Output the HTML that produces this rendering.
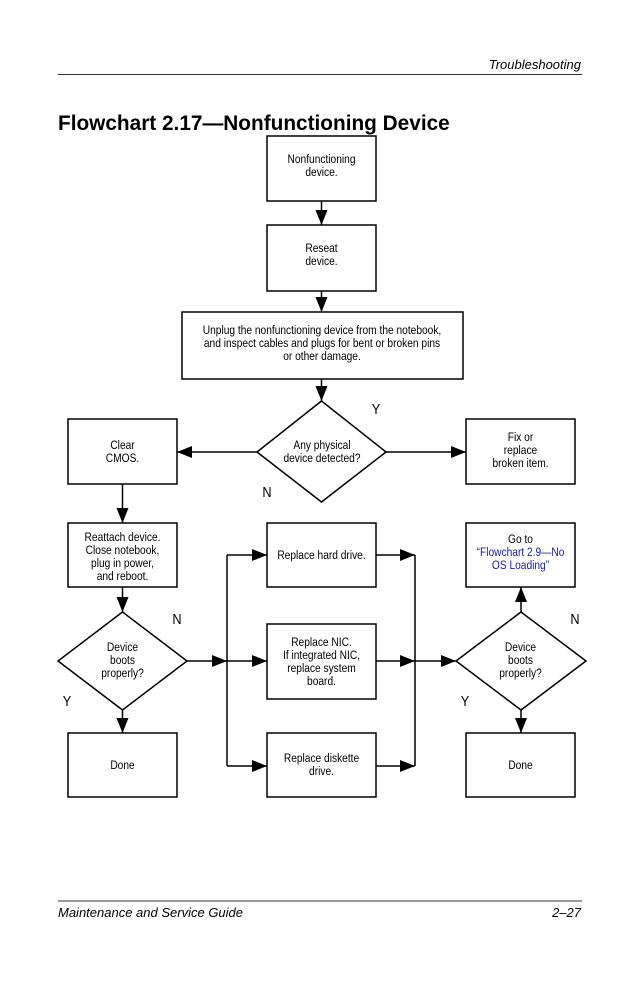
<!DOCTYPE html>
<html><head><meta charset="utf-8"><style>
html,body{margin:0;padding:0;background:#fff;}
svg{display:block;}
.t{font-family:"Liberation Sans",sans-serif;font-size:12px;fill:#000;}
.b{fill:none;stroke:#000;stroke-width:1.5;}
.l{stroke:#000;stroke-width:1.5;fill:none;}
</style></head><body>
<svg width="638" height="986" viewBox="0 0 638 986" xmlns="http://www.w3.org/2000/svg">
<defs>
<marker id="a" viewBox="0 0 15 12" refX="15" refY="6" markerWidth="15" markerHeight="12" markerUnits="userSpaceOnUse" orient="auto"><path d="M0,0 L15,6 L0,12 z" fill="#000"/></marker>
</defs>
<text x="581" y="69" text-anchor="end" font-family="Liberation Sans,sans-serif" font-style="italic" font-size="13">Troubleshooting</text>
<line x1="58" y1="74.5" x2="582" y2="74.5" stroke="#333" stroke-width="1"/>
<text x="58" y="130" font-family="Liberation Sans,sans-serif" font-weight="bold" font-size="20.8">Flowchart 2.17—Nonfunctioning Device</text>

<rect class="b" x="267" y="136" width="109" height="65"/>
<rect class="b" x="267" y="225" width="109" height="66"/>
<rect class="b" x="182" y="312" width="281" height="67"/>
<polygon class="b" points="321.5,401 386,452 321.5,502 257,452"/>
<rect class="b" x="68" y="419" width="109" height="65"/>
<rect class="b" x="466" y="419" width="109" height="65"/>
<rect class="b" x="68" y="523" width="109" height="64"/>
<rect class="b" x="267" y="523" width="109" height="64"/>
<rect class="b" x="466" y="523" width="109" height="64"/>
<rect class="b" x="267" y="624" width="109" height="75"/>
<polygon class="b" points="122.5,612 187,661 122.5,710 58,661"/>
<polygon class="b" points="521,612 586,661 521,710 456,661"/>
<rect class="b" x="68" y="733" width="109" height="64"/>
<rect class="b" x="267" y="733" width="109" height="64"/>
<rect class="b" x="466" y="733" width="109" height="64"/>

<line class="l" x1="321.5" y1="201" x2="321.5" y2="225" marker-end="url(#a)"/>
<line class="l" x1="321.5" y1="291" x2="321.5" y2="312" marker-end="url(#a)"/>
<line class="l" x1="321.5" y1="379" x2="321.5" y2="401" marker-end="url(#a)"/>
<line class="l" x1="257" y1="452" x2="177" y2="452" marker-end="url(#a)"/>
<line class="l" x1="386" y1="452" x2="466" y2="452" marker-end="url(#a)"/>
<line class="l" x1="122.5" y1="484" x2="122.5" y2="523" marker-end="url(#a)"/>
<line class="l" x1="122.5" y1="587" x2="122.5" y2="612" marker-end="url(#a)"/>
<line class="l" x1="122.5" y1="710" x2="122.5" y2="733" marker-end="url(#a)"/>
<line class="l" x1="187" y1="661" x2="227" y2="661" marker-end="url(#a)"/>
<line class="l" x1="227" y1="555" x2="227" y2="766"/>
<line class="l" x1="227" y1="555" x2="267" y2="555" marker-end="url(#a)"/>
<line class="l" x1="227" y1="661" x2="267" y2="661" marker-end="url(#a)"/>
<line class="l" x1="227" y1="766" x2="267" y2="766" marker-end="url(#a)"/>
<line class="l" x1="376" y1="555" x2="415" y2="555" marker-end="url(#a)"/>
<line class="l" x1="376" y1="661" x2="415" y2="661" marker-end="url(#a)"/>
<line class="l" x1="376" y1="766" x2="415" y2="766" marker-end="url(#a)"/>
<line class="l" x1="415" y1="555" x2="415" y2="766"/>
<line class="l" x1="415" y1="661" x2="456" y2="661" marker-end="url(#a)"/>
<line class="l" x1="521" y1="612" x2="521" y2="587" marker-end="url(#a)"/>
<line class="l" x1="521" y1="710" x2="521" y2="733" marker-end="url(#a)"/>

<g class="t" text-anchor="middle">
<text transform="translate(321.5,163) scale(0.85,1)">Nonfunctioning</text>
<text transform="translate(321.5,176) scale(0.85,1)">device.</text>
<text transform="translate(321.5,252) scale(0.85,1)">Reseat</text>
<text transform="translate(321.5,265) scale(0.85,1)">device.</text>
<text transform="translate(322,334) scale(0.85,1)">Unplug the nonfunctioning device from the notebook,</text>
<text transform="translate(322,347) scale(0.85,1)">and inspect cables and plugs for bent or broken pins</text>
<text transform="translate(322,360) scale(0.85,1)">or other damage.</text>
<text transform="translate(322,449) scale(0.85,1)">Any physical</text>
<text transform="translate(322,462) scale(0.85,1)">device detected?</text>
<text transform="translate(122.5,449) scale(0.85,1)">Clear</text>
<text transform="translate(122.5,462) scale(0.85,1)">CMOS.</text>
<text transform="translate(520.5,441) scale(0.85,1)">Fix or</text>
<text transform="translate(520.5,454) scale(0.85,1)">replace</text>
<text transform="translate(520.5,467) scale(0.85,1)">broken item.</text>
<text transform="translate(122.5,541) scale(0.85,1)">Reattach device.</text>
<text transform="translate(122.5,554) scale(0.85,1)">Close notebook,</text>
<text transform="translate(122.5,567) scale(0.85,1)">plug in power,</text>
<text transform="translate(122.5,580) scale(0.85,1)">and reboot.</text>
<text transform="translate(321.5,559) scale(0.85,1)">Replace hard drive.</text>
<text transform="translate(520.5,543) scale(0.85,1)">Go to</text>
<text transform="translate(520.5,556) scale(0.85,1)" fill="#1a1aa8">“Flowchart 2.9—No</text>
<text transform="translate(520.5,569) scale(0.85,1)" fill="#1a1aa8">OS Loading”</text>
<text transform="translate(321.5,646) scale(0.85,1)">Replace NIC.</text>
<text transform="translate(321.5,659) scale(0.85,1)">If integrated NIC,</text>
<text transform="translate(321.5,672) scale(0.85,1)">replace system</text>
<text transform="translate(321.5,685) scale(0.85,1)">board.</text>
<text transform="translate(122.5,651) scale(0.85,1)">Device</text>
<text transform="translate(122.5,664) scale(0.85,1)">boots</text>
<text transform="translate(122.5,677) scale(0.85,1)">properly?</text>
<text transform="translate(520.5,651) scale(0.85,1)">Device</text>
<text transform="translate(520.5,664) scale(0.85,1)">boots</text>
<text transform="translate(520.5,677) scale(0.85,1)">properly?</text>
<text transform="translate(122.5,769) scale(0.85,1)">Done</text>
<text transform="translate(321.5,762) scale(0.85,1)">Replace diskette</text>
<text transform="translate(321.5,775) scale(0.85,1)">drive.</text>
<text transform="translate(520.5,769) scale(0.85,1)">Done</text>
</g>
<g font-family="Liberation Sans,sans-serif" font-size="15" text-anchor="middle">
<text transform="translate(376,414) scale(0.85,1)">Y</text>
<text transform="translate(267,497) scale(0.85,1)">N</text>
<text transform="translate(177,624) scale(0.85,1)">N</text>
<text transform="translate(67,706) scale(0.85,1)">Y</text>
<text transform="translate(575,624) scale(0.85,1)">N</text>
<text transform="translate(465,706) scale(0.85,1)">Y</text>
</g>

<line x1="58" y1="901" x2="582" y2="901" stroke="#333" stroke-width="1"/>
<text x="58" y="917" font-family="Liberation Sans,sans-serif" font-style="italic" font-size="13">Maintenance and Service Guide</text>
<text x="581" y="917" text-anchor="end" font-family="Liberation Sans,sans-serif" font-style="italic" font-size="13">2–27</text>
</svg>
</body></html>
